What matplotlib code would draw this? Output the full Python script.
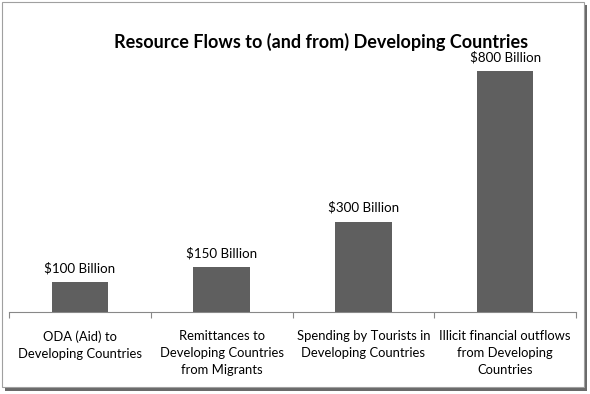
import matplotlib
matplotlib.use("Agg")
import matplotlib.pyplot as plt
from matplotlib.patches import Rectangle
import numpy as np

categories = ["ODA (Aid) to\nDeveloping Countries",
              "Remittances to\nDeveloping Countries\nfrom Migrants",
              "Spending by Tourists in\nDeveloping Countries",
              "Illicit financial outflows\nfrom Developing\nCountries"]
values = [100, 150, 300, 800]
value_labels = ["$100 Billion", "$150 Billion", "$300 Billion", "$800 Billion"]
title = "Resource Flows to (and from) Developing Countries"

plt.rcParams['font.family'] = ['Lato', 'DejaVu Sans']

fig = plt.figure(figsize=(5.9, 3.94), dpi=100)
# border with shadow
fig.patches.append(Rectangle((5/590, 1 - 391/394), 582/590, 386/394, transform=fig.transFigure,
                             facecolor="#6a6a6a", edgecolor="none", zorder=-3))
fig.patches.append(Rectangle((2/590, 1 - 387/394), 582/590, 385/394, transform=fig.transFigure,
                             facecolor="white", edgecolor="#a0a0a0", linewidth=0.8, zorder=-2))

ax = fig.add_axes([9/590, 1 - 312/394, 567/590, 271/394])
ax.set_facecolor("none")
ax.set_zorder(1)
x = np.arange(len(values))
bars = ax.bar(x, values, width=0.4, color="#5f5f5f", zorder=3)
for xi, v, lab in zip(x, values, value_labels):
    ax.text(xi, v + 26, lab, ha="center", va="bottom", fontsize=9.6, color="black")
ax.set_xlim(-0.5, len(values) - 0.5)
ax.set_ylim(0, 900)
ax.set_yticks([])
for s in ["top", "right", "left"]:
    ax.spines[s].set_visible(False)
ax.spines["bottom"].set_color("#888888")
ax.spines["bottom"].set_linewidth(0.8)
ax.set_xticks(x)
ax.set_xticklabels(categories, fontsize=9.4, linespacing=1.52)
ax.tick_params(axis="x", which="major", length=0, pad=13)
ax.set_xticks(np.arange(-0.5, len(values), 1.0), minor=True)
ax.tick_params(axis="x", which="minor", length=4, color="#888888", width=0.8)

fig.text(321/590, 1 - 42/394, title, ha="center", va="center", fontsize=13, fontweight="bold")

fig.savefig("out.png", dpi=100)
